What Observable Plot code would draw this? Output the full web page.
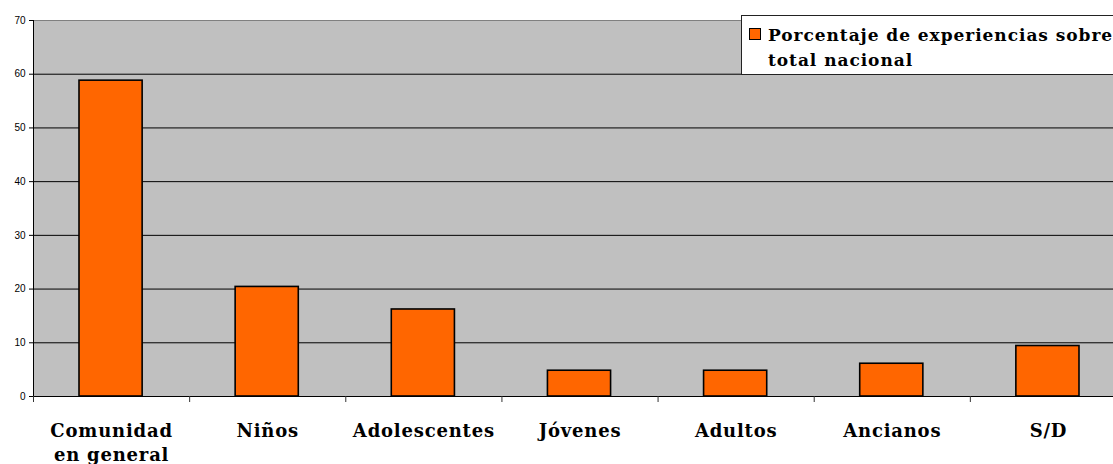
<!DOCTYPE html>
<html>
<head>
<meta charset="utf-8">
<script src="https://cdn.jsdelivr.net/npm/d3@7"></script>
<script src="https://cdn.jsdelivr.net/npm/@observablehq/plot@0.6"></script>
<style>
  html, body { margin: 0; padding: 0; background: #fff; overflow: hidden; }
  #wrap { position: relative; width: 1113px; height: 464px; overflow: hidden; }
  #chart g[aria-label="x-axis tick label"] { letter-spacing: 0.8px; }
  #legend {
    position: absolute; left: 741px; top: 15px; width: 400px; height: 60px;
    background: #fff; border: 1px solid #222; box-sizing: border-box;
    font-family: "DejaVu Serif", serif; font-weight: bold; font-size: 17px;
    letter-spacing: 0.95px; line-height: 25px; color: #000;
    padding: 7px 0 0 26px; white-space: nowrap;
  }
  #legend .sw {
    position: absolute; left: 7px; top: 12px; width: 12px; height: 12px;
    background: #ff6600; border: 1px solid #000; box-sizing: border-box;
  }
</style>
</head>
<body>
<div id="wrap">
  <div id="chart"></div>
  <div id="legend"><span class="sw"></span>Porcentaje de experiencias sobre<br>total nacional</div>
</div>
<script>
// Share of experiences by target group (percent of national total)
const categories = ["Comunidad\nen general", "Niños", "Adolescentes", "Jóvenes", "Adultos", "Ancianos", "S/D"];
const values = [58.8, 20.4, 16.2, 4.8, 4.8, 6.1, 9.4];
const yTicks = [0, 10, 20, 30, 40, 50, 60, 70];

const data = categories.map((c, i) => ({i, category: c, value: values[i]}));
const boundaries = d3.range(categories.length + 1);
const centers = d3.range(categories.length).map(i => i + 0.5);

const chart = Plot.plot({
  width: 1126,
  height: 464,
  marginTop: 20,
  marginBottom: 68,
  marginLeft: 33,
  marginRight: 0,
  style: {background: "transparent", overflow: "visible", maxWidth: "none"},
  x: {domain: [0, categories.length]},
  y: {domain: [0, 70]},
  marks: [
    Plot.frame({fill: "#c0c0c0", stroke: "#808080"}),
    Plot.ruleY(yTicks.filter(d => d > 0 && d < 70), {stroke: "#000", strokeWidth: 1}),
    Plot.rectY(data, {
      x1: d => d.i, x2: d => d.i + 1, y: "value",
      insetLeft: 46, insetRight: 47,
      fill: "#ff6600", stroke: "#000", strokeWidth: 1.6
    }),
    Plot.ruleX([0], {stroke: "#000"}),
    Plot.ruleY([0], {stroke: "#000"}),
    Plot.axisY({
      ticks: yTicks, tickSize: 4, tickPadding: 4,
      fontSize: 10, fontFamily: "Liberation Sans, Arial, sans-serif",
      label: null, color: "#000"
    }),
    Plot.axisX({ticks: boundaries, tickSize: 6, tickFormat: () => "", label: null, stroke: "#333"}),
    Plot.axisX({
      ticks: centers, tickSize: 0, tickPadding: 23,
      tickFormat: d => categories[Math.floor(d)],
      fontSize: 18, fontWeight: "bold", fontFamily: "DejaVu Serif, serif",
      lineHeight: 1.36, label: null, color: "#000"
    })
  ]
});
document.getElementById("chart").appendChild(chart);
</script>
</body>
</html>
